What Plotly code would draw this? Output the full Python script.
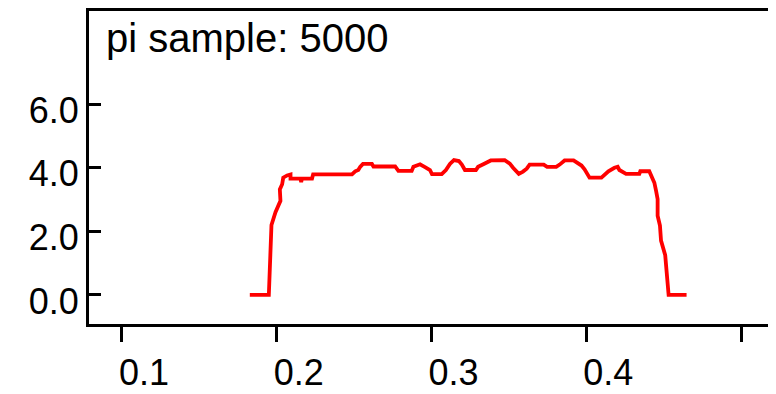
import plotly.graph_objects as go

x_vals = [0.1826, 0.1949, 0.1966, 0.1992, 0.2024, 0.2020, 0.2035, 0.2042, 0.2067, 0.2089,
          0.2089, 0.2153, 0.2158, 0.2163, 0.2228, 0.2235, 0.2486, 0.2507, 0.2527, 0.2539,
          0.2557, 0.2615, 0.2625, 0.2765, 0.2786, 0.2872, 0.2883, 0.2926, 0.2958, 0.2990,
          0.3003, 0.3066, 0.3093, 0.3119, 0.3145, 0.3177, 0.3196, 0.3216, 0.3287, 0.3301,
          0.3338, 0.3383, 0.3473, 0.3506, 0.3527, 0.3549, 0.3564, 0.3591, 0.3615, 0.3634,
          0.3725, 0.3747, 0.3806, 0.3828, 0.3860, 0.3918, 0.3946, 0.3969, 0.3989, 0.4008,
          0.4021, 0.4098, 0.4121, 0.4143, 0.4182, 0.4203, 0.4214, 0.4257, 0.4343, 0.4349,
          0.4407, 0.4429, 0.4440, 0.4451, 0.4461, 0.4461, 0.4476, 0.4483, 0.4510, 0.4532,
          0.4648]
y_vals = [0.0, 0.0, 2.20, 2.60, 2.96, 3.32, 3.48, 3.69, 3.76, 3.79,
          3.66, 3.66, 3.55, 3.66, 3.66, 3.79, 3.79, 3.89, 3.93, 4.03,
          4.12, 4.12, 4.04, 4.04, 3.90, 3.90, 4.03, 4.11, 4.02, 3.93,
          3.80, 3.80, 3.93, 4.12, 4.24, 4.21, 4.10, 3.93, 3.93, 4.03,
          4.12, 4.23, 4.24, 4.13, 4.00, 3.88, 3.81, 3.88, 3.97, 4.10,
          4.10, 4.03, 4.03, 4.10, 4.23, 4.23, 4.15, 4.07, 3.95, 3.82,
          3.69, 3.69, 3.79, 3.89, 4.00, 4.03, 3.93, 3.81, 3.81, 3.89,
          3.89, 3.69, 3.53, 3.27, 3.01, 2.49, 2.18, 1.71, 1.25, 0.0,
          0.0]

x_tickvals = [0.1, 0.2, 0.3, 0.4, 0.5]
x_ticktext = ["0.1", "0.2", "0.3", "0.4", ""]
y_tickvals = [0.0, 2.0, 4.0, 6.0]
y_ticktext = ["0.0", "2.0", "4.0", "6.0"]
label_text = "pi sample: 5000"

fig = go.Figure()
fig.add_trace(go.Scatter(x=x_vals, y=y_vals, mode="lines",
                         line=dict(color="#ff0000", width=3.8), showlegend=False))

font = dict(family="Liberation Sans, Arial, sans-serif", size=36, color="black")

fig.update_layout(
    width=776, height=394,
    margin=dict(l=81, r=12, t=3, b=78),
    paper_bgcolor="white", plot_bgcolor="white",
    font=font,
    xaxis=dict(range=[0.0787, 0.52], tickvals=x_tickvals, ticktext=x_ticktext,
               ticks="outside", ticklen=15, tickwidth=3, tickcolor="black",
               showline=True, linecolor="black", linewidth=3, mirror=True,
               showgrid=False, zeroline=False, tickfont=font, automargin=False,
               ticklabelshift=22),
    yaxis=dict(range=[-0.913, 8.93], tickvals=y_tickvals, ticktext=y_ticktext,
               ticks="inside", ticklen=12, tickwidth=3, tickcolor="black",
               showline=True, linecolor="black", linewidth=3, mirror=True,
               showgrid=False, zeroline=False, tickfont=font, ticklabelstandoff=0,
               automargin=False, ticklabelshift=6),
    annotations=[dict(text=label_text, xref="paper", yref="paper",
                      x=0.022, y=0.99, xanchor="left", yanchor="top",
                      showarrow=False, font=dict(family="Liberation Sans, Arial, sans-serif",
                                                 size=40, color="black"))],
)

fig.write_html("out.html")
